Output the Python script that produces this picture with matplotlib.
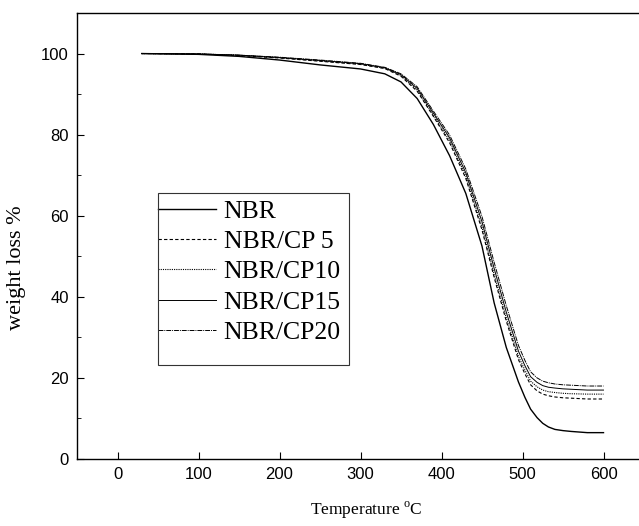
import matplotlib
matplotlib.use("Agg")
from matplotlib import pyplot as plt
from matplotlib.patches import Rectangle
from matplotlib.ticker import MultipleLocator

plt.rcParams['font.family'] = 'Liberation Sans'
plt.rcParams['mathtext.fontset'] = 'custom'
plt.rcParams['mathtext.rm'] = 'Liberation Serif'

# temperature grid (deg C) shared by all curves
temp = [30, 100, 150, 200, 250, 300, 330, 350, 370, 390, 410, 430, 450,
        465, 480, 495, 503, 510, 518, 525, 532, 540, 550, 560, 580, 600]

nbr = [100, 99.8, 99.3, 98.4, 97.2, 96.2, 95.0, 93.0, 88.9, 82.5, 74.8, 65.5,
       52.5, 38.5, 27.5, 19.0, 15.2, 12.3, 10.2, 8.8, 7.9, 7.3, 7.0, 6.8,
       6.5, 6.5]
cp5 = [100, 99.9, 99.5, 98.9, 98.1, 97.3, 96.3, 94.4, 90.7, 84.5, 78.0, 69.2,
       56.5, 44.8, 34.0, 24.5, 21.0, 18.3, 16.8, 16.0, 15.6, 15.3, 15.1, 15.0,
       14.8, 14.8]
cp10 = [100, 99.9, 99.6, 99.0, 98.2, 97.4, 96.4, 94.6, 91.0, 84.8, 78.5, 69.8,
        57.2, 45.5, 34.8, 25.3, 21.9, 19.2, 17.8, 17.0, 16.6, 16.4, 16.2, 16.1,
        16.0, 16.0]
cp15 = [100, 99.9, 99.6, 99.0, 98.3, 97.5, 96.5, 94.8, 91.4, 85.3, 79.2, 70.6,
        58.5, 47.0, 36.2, 26.6, 23.0, 20.3, 18.9, 18.1, 17.7, 17.5, 17.3, 17.2,
        17.0, 17.0]
cp20 = [100, 99.9, 99.6, 99.1, 98.4, 97.6, 96.6, 95.0, 91.8, 85.8, 79.9, 71.5,
        59.8, 48.5, 37.8, 28.0, 24.3, 21.5, 20.0, 19.2, 18.8, 18.5, 18.3, 18.2,
        18.0, 18.0]

labels = ['NBR', 'NBR/CP 5', 'NBR/CP10', 'NBR/CP15', 'NBR/CP20']
series = [nbr, cp5, cp10, cp15, cp20]
styles = ['-', (0, (3, 2)), (0, (1, 1)), '-', (0, (5, 1, 1, 1))]
widths = [1.0, 0.8, 0.8, 0.7, 0.7]

fig = plt.figure(figsize=(6.39, 5.26), dpi=100)
ax = fig.add_axes([77 / 639, 67 / 526, 567 / 639, 446 / 526])

for y, lab, ls, lw in zip(series, labels, styles, widths):
    ax.plot(temp, y, color='black', linestyle=ls, linewidth=lw, label=lab)

ax.set_xlim(-50, 650)
ax.set_ylim(0, 110)
ax.set_xticks(range(0, 700, 100))
ax.yaxis.set_major_locator(MultipleLocator(20))
ax.yaxis.set_minor_locator(MultipleLocator(10))
ax.tick_params(direction='in', length=5, width=0.8, labelsize=12, pad=6)
ax.tick_params(which='minor', direction='in', length=3, width=0.6)
for s in ax.spines.values():
    s.set_linewidth(1.0)
ax.spines['right'].set_visible(False)

ax.set_xlabel('Temperature $^\\mathrm{o}$C', family='Liberation Serif',
              fontsize=12.5)
ax.xaxis.set_label_coords(0.51, -0.092)
ax.set_ylabel('weight loss %', family='Liberation Serif', fontsize=16)
ax.yaxis.set_label_coords(-0.09, 0.43)

# legend frame drawn by hand, entries without frame
fig.patches.append(Rectangle((158 / 639, 1 - 365 / 526), 191 / 639, 172 / 526,
                             transform=fig.transFigure, fill=False,
                             edgecolor='#333333', linewidth=0.8))
ax.legend(loc='upper left', bbox_to_anchor=(158 / 639, 1 - 200 / 526),
          bbox_transform=fig.transFigure, frameon=False, borderpad=0,
          borderaxespad=0, handlelength=2.25, handletextpad=0.3,
          labelspacing=0.28, prop={'family': 'Liberation Serif', 'size': 18.5})

fig.savefig('out.png', dpi=100)
